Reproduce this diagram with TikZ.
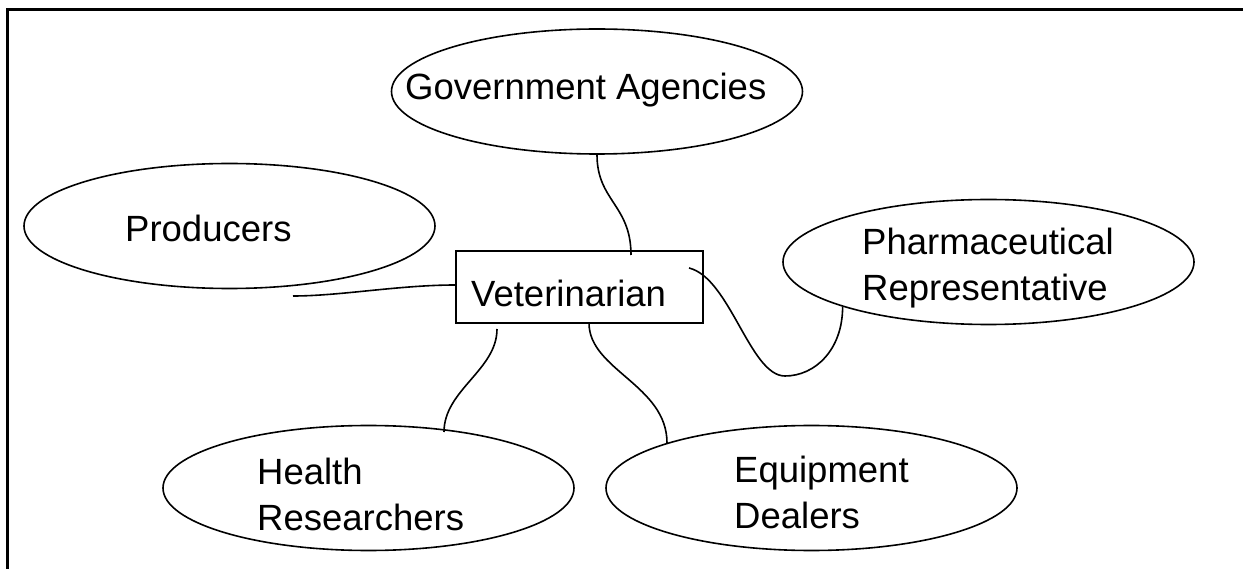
\documentclass[tikz,border=0pt]{standalone}
\usepackage{fontspec}
\setmainfont{Liberation Sans}
\usetikzlibrary{shapes.geometric}
\begin{document}
\begin{tikzpicture}[x=1pt,y=-1pt,
  oval/.style={draw, ellipse, line width=1.6pt, minimum width=411pt, minimum height=125pt, inner sep=0pt},
  box/.style={draw, rectangle, line width=1.6pt, minimum width=247pt, minimum height=72pt, inner sep=0pt},
  lbl/.style={inner sep=0pt, anchor=base west, font=\fontsize{36.5}{46}\selectfont, align=left},
  link/.style={line width=1.6pt}]
\useasboundingbox (0,0) rectangle (1243,569);
\draw[line width=3pt] (7,569) -- (7,10) -- (1243,10);

\node[oval] (gov) at (597,91.5) {};
\node[oval] (prod) at (229.5,226) {};
\node[oval] (pharm) at (988.5,262) {};
\node[oval] (health) at (368.5,488) {};
\node[oval] (equip) at (811.5,488) {};
\node[box] (vet) at (579.5,287) {};

\node[lbl] (govt) at (405,100) {Government Agencies};
\node[lbl] (prodt) at (125,242) {Producers};
\node[lbl] (vett) at (471,307) {Veterinarian};
\node[lbl] (pharmt) at (862,301) {Pharmaceutical\\Representative};
\node[lbl] (healtht) at (257,530) {Health\\Researchers};
\node[lbl] (equipt) at (734,528) {Equipment\\Dealers};

\coordinate (prodend) at (293,296);
\coordinate (pharmlow) at (785,376);

\draw[link] (gov.south) .. controls +(0,46) and +(0,-50) .. ([shift={(51.5,-32)}]vet.center);
\draw[link] ([shift={(0,-2)}]vet.west) .. controls +(-56,0) and +(47,0) .. (prodend);
\draw[link] ([shift={(109.5,-19)}]vet.center) .. controls +(41,10) and +(-35,0) .. (pharmlow)
  .. controls +(30,0) and +(0,43) .. (pharm.south west);
\draw[link] ([shift={(-82.5,42)}]vet.center) .. controls +(0,41) and +(0,-42) .. ([shift={(75.5,-56)}]health.center);
\draw[link] ([shift={(9.5,36)}]vet.center) .. controls +(0,47) and +(0,-58) .. ([shift={(-144.5,-45)}]equip.center);
\end{tikzpicture}
\end{document}
